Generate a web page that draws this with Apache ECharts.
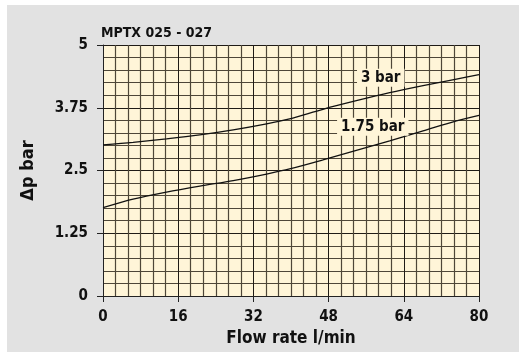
<!DOCTYPE html>
<html>
<head>
<meta charset="utf-8">
<script src="https://cdn.jsdelivr.net/npm/echarts@6/dist/echarts.min.js"></script>
<style>
html,body{margin:0;padding:0;background:#ffffff;}
#bg{position:absolute;left:7px;top:5px;width:512px;height:347px;background:#e2e2e2;}
#chart{position:absolute;left:0;top:0;width:519px;height:352px;}
</style>
</head>
<body>
<div id="bg"></div>
<div id="chart"></div>
<script>
const title = 'MPTX 025 - 027';
const xName = 'Flow rate l/min';
const yName = 'Δp bar';
const xTicks = [0, 16, 32, 48, 64, 80];
const yTicks = [0, 1.25, 2.5, 3.75, 5];
const flowX = [0, 6.4, 13.5, 20.6, 27.7, 34.8, 39.7, 46.8, 53.9, 61, 68.1, 75.2, 80];
const dp3bar = [3.01, 3.06, 3.13, 3.21, 3.31, 3.43, 3.53, 3.72, 3.89, 4.05, 4.19, 4.32, 4.41];
const dp175bar = [1.76, 1.93, 2.07, 2.19, 2.30, 2.43, 2.53, 2.71, 2.90, 3.09, 3.29, 3.49, 3.60];
const seriesNames = ['3 bar', '1.75 bar'];

const FONT = "'DejaVu Sans Condensed', 'Liberation Sans', Arial, sans-serif";
const GRIDCOL = '#1f1b16';
const MINORCOL = '#4e4638';
const CREAM = '#fff5d8';

const chart = echarts.init(document.getElementById('chart'), null, {renderer: 'canvas'});

function pairs(xs, ys) { return xs.map((x, i) => [x, ys[i]]); }

const labelStyle = {fontFamily: FONT, fontSize: 15, fontWeight: 'bold', color: '#111'};

const option = {
  backgroundColor: 'transparent',
  animation: false,
  title: {
    text: title, left: 101, top: 26, padding: 0,
    textStyle: {fontFamily: FONT, fontSize: 14, fontWeight: 'bold', color: '#111'}
  },
  grid: {left: 103, top: 45, width: 376, height: 251, show: true, backgroundColor: CREAM, borderWidth: 0},
  xAxis: {
    type: 'value', min: xTicks[0], max: xTicks[xTicks.length - 1], interval: 16,
    name: xName, nameLocation: 'middle', nameGap: 33,
    nameTextStyle: {fontFamily: FONT, fontSize: 17, fontWeight: 'bold', color: '#111'},
    axisLine: {show: true, lineStyle: {color: '#222', width: 1}},
    axisTick: {show: true, length: 6, lineStyle: {color: '#222'}},
    axisLabel: Object.assign({margin: 14, formatter: v => xTicks.includes(v) ? String(v) : ''}, labelStyle),
    splitLine: {show: true, lineStyle: {color: GRIDCOL, width: 1}},
    minorTick: {show: false, splitNumber: 6},
    minorSplitLine: {show: true, lineStyle: {color: MINORCOL, width: 1.2}}
  },
  yAxis: {
    type: 'value', min: yTicks[0], max: yTicks[yTicks.length - 1], interval: 1.25,
    name: yName, nameLocation: 'middle', nameGap: 66, nameRotate: 90,
    nameTextStyle: {fontFamily: FONT, fontSize: 18, fontWeight: 'bold', color: '#111'},
    axisLine: {show: true, lineStyle: {color: '#222', width: 1}},
    axisTick: {show: true, length: 6, lineStyle: {color: '#222'}},
    axisLabel: Object.assign({margin: 15, formatter: v => yTicks.includes(v) ? String(v) : ''}, labelStyle),
    splitLine: {show: true, lineStyle: {color: GRIDCOL, width: 1}},
    minorTick: {show: false, splitNumber: 5},
    minorSplitLine: {show: true, lineStyle: {color: MINORCOL, width: 1.2}}
  },
  series: [
    {
      name: seriesNames[0], type: 'line', smooth: 0.3, symbol: 'none',
      lineStyle: {color: '#111', width: 1.3},
      data: pairs(flowX, dp3bar),
      markPoint: {
        symbol: 'rect', symbolSize: 0, silent: true,
        label: Object.assign({show: true, formatter: seriesNames[0], backgroundColor: CREAM, padding: [2, 4, 1, 4]}, labelStyle, {fontSize: 15}),
        data: [{coord: [59.1, 4.35]}]
      }
    },
    {
      name: seriesNames[1], type: 'line', smooth: 0.3, symbol: 'none',
      lineStyle: {color: '#111', width: 1.3},
      data: pairs(flowX, dp175bar),
      markPoint: {
        symbol: 'rect', symbolSize: 0, silent: true,
        label: Object.assign({show: true, formatter: seriesNames[1], backgroundColor: CREAM, padding: [2, 4, 1, 4]}, labelStyle, {fontSize: 15}),
        data: [{coord: [57.4, 3.37]}]
      }
    }
  ]
};
chart.setOption(option);
</script>
</body>
</html>
